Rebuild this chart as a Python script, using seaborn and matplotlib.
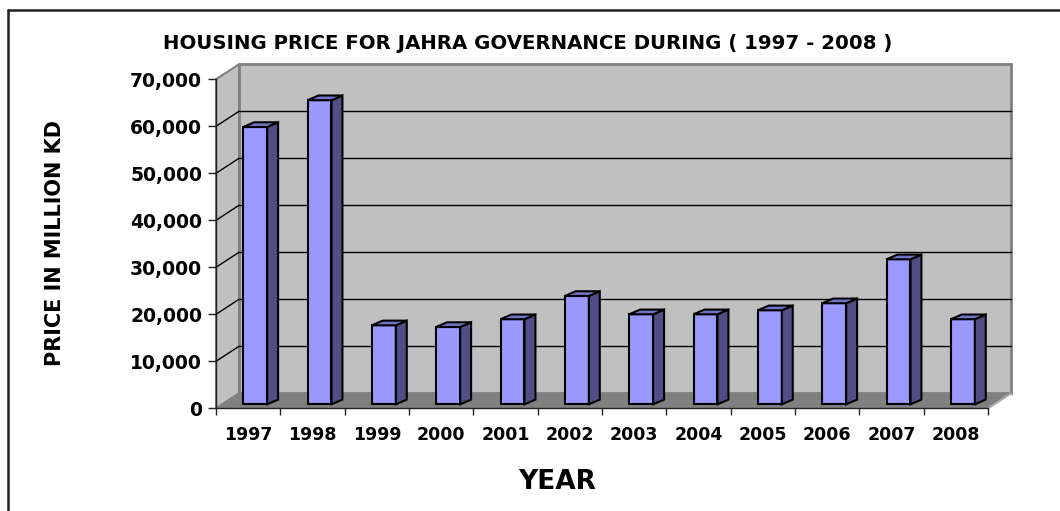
import matplotlib
matplotlib.use("Agg")
import matplotlib.pyplot as plt
import matplotlib.transforms as mtransforms
from matplotlib.patches import Polygon
from matplotlib.lines import Line2D
import seaborn as sns
import pandas as pd

years = ["1997", "1998", "1999", "2000", "2001", "2002",
         "2003", "2004", "2005", "2006", "2007", "2008"]
prices = [59000, 64700, 16800, 16450, 18100, 23050,
          19150, 19150, 20000, 21500, 30850, 18100]
y_ticks = [0, 10000, 20000, 30000, 40000, 50000, 60000, 70000]

df = pd.DataFrame({"Year": years, "Price": prices})

sns.set_style("white")
plt.rcParams["font.family"] = ["DejaVu Sans"]
plt.rcParams["font.weight"] = "bold"
plt.rcParams["text.color"] = "black"
plt.rcParams["xtick.color"] = "black"
plt.rcParams["ytick.color"] = "black"
plt.rcParams["xtick.labelcolor"] = "black"
plt.rcParams["ytick.labelcolor"] = "black"

fig = plt.figure(figsize=(10.6, 5.11), dpi=100)
ax = fig.add_axes([216 / 1060, 1 - 408.3 / 511, 772 / 1060, 329 / 511])

n = len(years)
x_lo, x_hi = -0.5, n - 0.5
y_top = y_ticks[-1]

# depth of the "3d" walls and of the columns, in data units
wall_dx, wall_dy = 0.358, 3200
bar_dx, bar_dy = 0.17, 1000

wall_col = "#C0C0C0"
wall_edge = "#808080"

# back wall
ax.add_patch(Polygon([(x_lo + wall_dx, wall_dy), (x_hi + wall_dx, wall_dy),
                      (x_hi + wall_dx, y_top + wall_dy), (x_lo + wall_dx, y_top + wall_dy)],
                     closed=True, facecolor=wall_col, edgecolor=wall_edge, lw=2,
                     clip_on=False, zorder=0))
# side wall
ax.add_patch(Polygon([(x_lo, 0), (x_lo + wall_dx, wall_dy),
                      (x_lo + wall_dx, y_top + wall_dy), (x_lo, y_top)],
                     closed=True, facecolor=wall_col, edgecolor=wall_edge, lw=1.5,
                     clip_on=False, zorder=0.5))
# floor
ax.add_patch(Polygon([(x_lo, 0), (x_hi, 0), (x_hi + wall_dx, wall_dy), (x_lo + wall_dx, wall_dy)],
                     closed=True, facecolor="#808080", edgecolor="none",
                     clip_on=False, zorder=0.6))
ax.add_line(Line2D([x_hi, x_hi + wall_dx], [0, wall_dy], color="#A8A8A8", lw=1.5,
                   clip_on=False, zorder=0.7))

# gridlines on back wall + side wall
for v in y_ticks[1:-1]:
    ax.add_line(Line2D([x_lo + wall_dx, x_hi + wall_dx], [v + wall_dy, v + wall_dy],
                       color="black", lw=1, clip_on=False, zorder=1))
    ax.add_line(Line2D([x_lo, x_lo + wall_dx], [v, v + wall_dy],
                       color="black", lw=1, clip_on=False, zorder=1))

sns.barplot(data=df, x="Year", y="Price", color="#9999FF", saturation=1,
            width=0.373, edgecolor="black", linewidth=1.5, ax=ax, zorder=3)

# columns stand a bit behind the front plane
shift = ax.transData + mtransforms.ScaledTranslation(0.07, 0.04, fig.dpi_scale_trans)
for p in list(ax.patches):
    if not isinstance(p, matplotlib.patches.Rectangle):
        continue
    x0, w, h = p.get_x(), p.get_width(), p.get_height()
    p.set_transform(shift)
    p.set_clip_on(False)
    side = Polygon([(x0 + w, 0), (x0 + w + bar_dx, bar_dy),
                    (x0 + w + bar_dx, h + bar_dy), (x0 + w, h)],
                   closed=True, facecolor="#4F4F86", edgecolor="black", lw=1.5,
                   transform=shift, clip_on=False, zorder=3)
    top = Polygon([(x0, h), (x0 + w, h), (x0 + w + bar_dx, h + bar_dy), (x0 + bar_dx, h + bar_dy)],
                  closed=True, facecolor="#7373C8", edgecolor="black", lw=1.5,
                  transform=shift, clip_on=False, zorder=3)
    ax.add_patch(side)
    ax.add_patch(top)

ax.set_xlim(x_lo, x_hi)
ax.set_ylim(0, y_top)
ax.set_facecolor("none")
ax.set_yticks(y_ticks)
ax.set_yticklabels([f"{v:,}" for v in y_ticks], fontsize=13.5, fontweight="bold", color="black")
ax.set_xticks(range(n))
ax.set_xticklabels(years, fontsize=12.5, fontweight="bold", color="black")
ax.set_xticks([i - 0.5 for i in range(n + 1)], minor=True)
ax.tick_params(axis="x", which="major", length=0, pad=13)
ax.tick_params(axis="x", which="minor", length=5, width=1, color="#222222", direction="out", bottom=True)
ax.tick_params(axis="y", length=6, width=1, color="#222222", direction="out", pad=4, left=True)
ax.set_xlabel("")
ax.set_ylabel("")
for s in ["top", "right"]:
    ax.spines[s].set_visible(False)
for s in ["left", "bottom"]:
    ax.spines[s].set_color("#222222")
    ax.spines[s].set_linewidth(1)
    ax.spines[s].set_zorder(4)

fig.text(528 / 1060, 1 - 43 / 511, "HOUSING PRICE FOR JAHRA GOVERNANCE DURING ( 1997 - 2008 )",
         ha="center", va="center", fontsize=14.2, fontweight="bold", color="black")
fig.text(55 / 1060, 1 - 242.5 / 511, "PRICE IN MILLION KD", rotation=90,
         ha="center", va="center", fontsize=15, fontweight="bold", color="black")
fig.text(557 / 1060, 1 - 481.7 / 511, "YEAR", ha="center", va="center",
         fontsize=19, fontweight="bold", color="black")

# chart area frame (cut at right and bottom)
fig.add_artist(Line2D([8 / 1060, 8 / 1060], [0, 1 - 10 / 511], color="#222222", lw=1.8))
fig.add_artist(Line2D([8 / 1060, 1], [1 - 10 / 511, 1 - 10 / 511], color="#222222", lw=1.8))

fig.savefig("out.png", dpi=100)
